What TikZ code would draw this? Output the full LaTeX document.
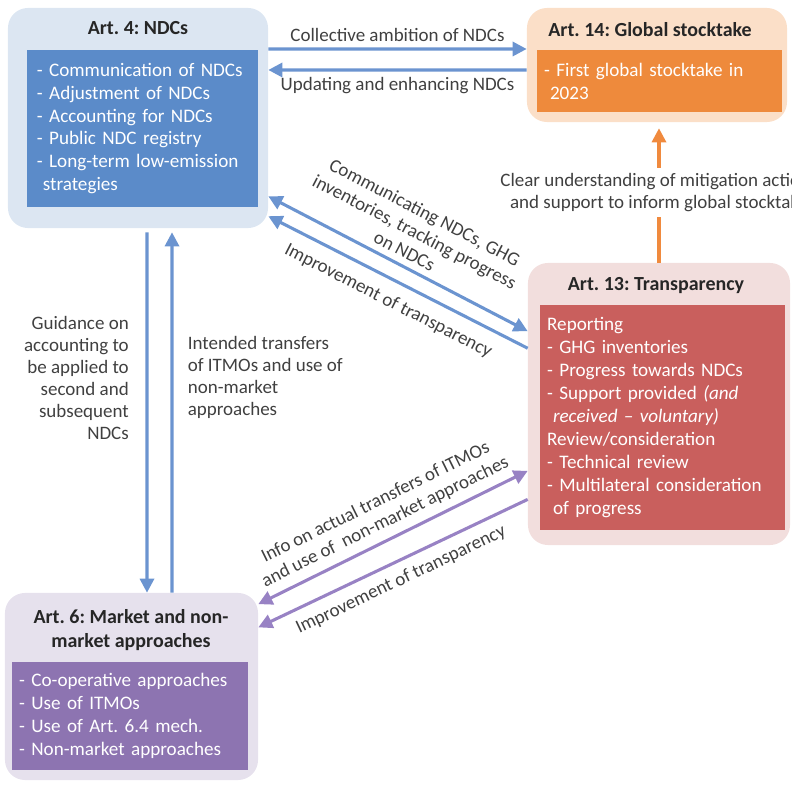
\documentclass[tikz,border=0pt]{standalone}
\usepackage{fontspec}
\setmainfont{Carlito}
\usetikzlibrary{arrows.meta}
\frenchspacing

\definecolor{ndclight}{HTML}{DCE6F2}
\definecolor{ndcdark}{HTML}{5B8BC9}
\definecolor{gstlight}{HTML}{FBDFC8}
\definecolor{gstdark}{HTML}{EE8A3C}
\definecolor{tralight}{HTML}{F2DEDD}
\definecolor{tradark}{HTML}{C95F5D}
\definecolor{mktlight}{HTML}{E6E1ED}
\definecolor{mktdark}{HTML}{8D74B1}
\definecolor{bluelink}{HTML}{6B94D0}
\definecolor{orangelink}{HTML}{F08A3E}
\definecolor{purplelink}{HTML}{9882C4}
\definecolor{labeltext}{HTML}{404040}
\definecolor{titletext}{HTML}{262626}

\newcommand{\boxfont}{\fontsize{13.6}{16.3}\selectfont}
\newcommand{\titlefont}{\fontsize{14.2}{17.5}\selectfont\bfseries}
\newcommand{\linkfont}{\fontsize{13.5}{15.6}\selectfont}

\begin{document}
\begin{tikzpicture}[x=0.025cm, y=0.025cm, line join=round,
  outerbox/.style={rounded corners=0.5cm, inner sep=0pt},
  innerbox/.style={inner xsep=0.18cm, inner ysep=0pt, align=left, text=white, font=\boxfont},
  boxtitle/.style={font=\titlefont, text=titletext, align=center},
  link/.style={line width=2.2pt, >={Triangle[length=10pt, width=10pt]}},
  linktext/.style={font=\linkfont, text=labeltext, align=center}]
\useasboundingbox (0,0) rectangle (792,785);
% Outer boxes
\node[outerbox, fill=ndclight, minimum width=6.5cm, minimum height=5.5cm] (ndc) at (138,667) {};
\node[outerbox, fill=gstlight, minimum width=6.5cm, minimum height=2.85cm] (gst) at (657,720) {};
\node[outerbox, fill=tralight, minimum width=6.55cm, minimum height=7.05cm] (tra) at (659,381) {};
\node[outerbox, fill=mktlight, minimum width=6.325cm, minimum height=4.675cm] (mkt) at (131.5,98.5) {};
% Titles
\node[boxtitle] (ndct) at (138,757) {Art. 4: NDCs};
\node[boxtitle] (gstt) at (650,755) {Art. 14: Global stocktake};
\node[boxtitle] (trat) at (656,499) {Art. 13: Transparency};
\node[boxtitle] (mktt) at (131,155) {Art. 6: Market and non-\\market approaches};
% Inner boxes
\node[innerbox, fill=ndcdark, inner xsep=0.25cm, text width=5.275cm, minimum height=3.925cm] (ndcin) at (142.5,656.5)
  {- Communication of NDCs\\- Adjustment of NDCs\\- Accounting for NDCs\\- Public NDC registry\\- Long-term low-emission\\\hphantom{-}strategies};
\node[innerbox, fill=gstdark, text width=5.765cm, minimum height=1.55cm] (gstin) at (659.5,704)
  {- First global stocktake in\\\hphantom{-}2023};
\node[innerbox, fill=tradark, text width=5.765cm, minimum height=5.625cm] (train) at (662.5,367.5)
  {Reporting\\- GHG inventories\\- Progress towards NDCs\\- Support provided \textit{(and}\\\hphantom{-}\textit{received -- voluntary)}\\Review/consideration\\- Technical review\\- Multilateral consideration\\\hphantom{-}of progress};
\node[innerbox, fill=mktdark, text width=5.54cm, minimum height=2.7cm] (mktin) at (130,69)
  {- Co-operative approaches\\- Use of ITMOs\\- Use of Art. 6.4 mech.\\- Non-market approaches};
% Art. 4 <-> Art. 14
\draw[link, bluelink, ->] ([yshift=1.725cm]ndc.east) -- ([yshift=0.4cm]gst.west)
  node[linktext, midway, above=1pt] (lcoll) {Collective ambition of NDCs};
\draw[link, bluelink, ->] ([yshift=-0.125cm]gst.west) -- ([yshift=1.2cm]ndc.east)
  node[linktext, midway, below=1pt] (lupd) {Updating and enhancing NDCs};
% Art. 13 -> Art. 14
\draw[link, orangelink, ->, shorten >=0.15cm] (tra.north) -- (tra.north |- gst.south)
  node[linktext, midway, fill=white, inner ysep=4pt] (lclear) {Clear understanding of mitigation actions\\and support to inform global stocktake};
% Art. 4 <-> Art. 13
\draw[link, bluelink, <->] (ndc.-31) -- (tra.151.5)
  node[linktext, midway, sloped, above=1pt] (lcomm) {Communicating NDCs, GHG\\inventories, tracking progress\\on NDCs};
\draw[link, bluelink, <-] (ndc.-37) -- (tra.157.6)
  node[linktext, midway, sloped, below=5pt] (limpa) {Improvement of transparency};
% Art. 4 <-> Art. 6
\draw[link, bluelink, ->, shorten <=0.1cm] ([xshift=0.225cm]ndc.south) -- ([xshift=0.3875cm]mkt.north)
  node[linktext, pos=0.41, left=0.3cm, align=right] (lguid) {Guidance on\\accounting to\\be applied to\\second and\\subsequent\\NDCs};
\draw[link, bluelink, <-, shorten <=0.1cm] ([xshift=0.85cm]ndc.south) -- ([xshift=1.0125cm]mkt.north)
  node[linktext, pos=0.41, right=0.24cm, align=left] (lint) {Intended transfers\\of ITMOs and use of\\non-market\\approaches};
% Art. 6 <-> Art. 13
\draw[link, purplelink, <->] (mkt.33.4) -- (tra.207.8)
  node[linktext, midway, sloped, above=2pt] (linfo) {Info on actual transfers of ITMOs\\and use of\ \ non-market approaches};
\draw[link, purplelink, <-] (mkt.25.9) -- (tra.216.2)
  node[linktext, midway, sloped, below=3pt] (limpb) {Improvement of transparency};
\end{tikzpicture}
\end{document}
